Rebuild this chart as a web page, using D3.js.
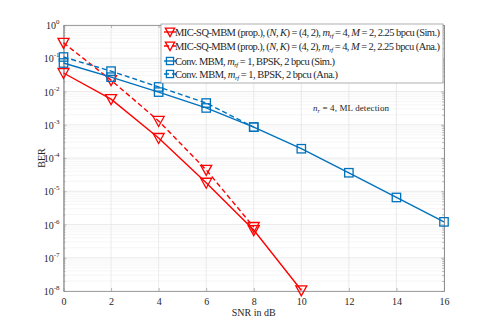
<!DOCTYPE html>
<html>
<head>
<meta charset="utf-8">
<script src="https://cdn.jsdelivr.net/npm/d3@7"></script>
<style>
body { margin: 0; background: #fff; }
text { font-family: "Liberation Serif", "DejaVu Serif", serif; fill: #262626; }
</style>
</head>
<body>
<svg id="chart" width="491" height="327"></svg>
<script>
// SNR points
var snrMic = [0, 2, 4, 6, 8, 10];
var snrMicAna = [0, 2, 4, 6, 8];
var snrConv = [0, 2, 4, 6, 8, 10, 12, 14, 16];
var snrConvAna = [0, 2, 4, 6, 8];

// BER values
var berMicSim = [0.036, 5.9e-3, 4.0e-4, 1.8e-5, 6.8e-7, 1.05e-8];
var berMicAna = [0.29, 0.022, 1.3e-3, 4.4e-5, 8.4e-7];
var berConvSim = [0.072, 0.027, 9.6e-3, 3.2e-3, 8.5e-4, 1.9e-4, 3.6e-5, 6.5e-6, 1.2e-6];
var berConvAna = [0.109, 0.041, 0.0137, 4.5e-3, 8.5e-4];

var xTicks = [0, 2, 4, 6, 8, 10, 12, 14, 16];
var yExps = [0, -1, -2, -3, -4, -5, -6, -7, -8];

var svg = d3.select("#chart");
var pL = 63.5, pR = 444, pT = 25, pB = 291;

var x = d3.scaleLinear().domain([0, 16]).range([pL, pR]);
var y = d3.scaleLog().domain([1e-8, 1]).range([pB, pT]);

// minor grid
var minors = [];
yExps.forEach(function(e) {
  if (e == 0) return;
  for (var k = 2; k <= 9; k++) minors.push(k * Math.pow(10, e));
});
svg.append("g").selectAll("line").data(minors).enter().append("line")
  .attr("x1", pL).attr("x2", pR)
  .attr("y1", function(d) { return y(d); }).attr("y2", function(d) { return y(d); })
  .attr("stroke", "#f0f0f0").attr("stroke-width", 0.6);

// major grid
svg.append("g").selectAll("line").data(xTicks).enter().append("line")
  .attr("x1", function(d) { return x(d); }).attr("x2", function(d) { return x(d); })
  .attr("y1", pT).attr("y2", pB)
  .attr("stroke", "#e3e3e3").attr("stroke-width", 0.7);
svg.append("g").selectAll("line").data(yExps).enter().append("line")
  .attr("x1", pL).attr("x2", pR)
  .attr("y1", function(d) { return y(Math.pow(10, d)); }).attr("y2", function(d) { return y(Math.pow(10, d)); })
  .attr("stroke", "#e3e3e3").attr("stroke-width", 0.7);

// axes box with inward ticks
var xAxis = d3.axisBottom(x).tickValues(xTicks).tickSizeInner(-3).tickSizeOuter(0).tickPadding(7);
var gx = svg.append("g").attr("transform", "translate(0," + pB + ")").call(xAxis);
gx.selectAll("text").style("font-size", "10px").attr("fill", "#262626");
svg.append("g").attr("transform", "translate(0," + pT + ")")
  .call(d3.axisTop(x).tickValues(xTicks).tickSizeInner(-3).tickSizeOuter(0).tickFormat(""));

var yAll = yExps.map(function(e) { return Math.pow(10, e); });
svg.append("g").attr("transform", "translate(" + pL + ",0)")
  .call(d3.axisLeft(y).tickValues(yAll).tickSizeInner(-3).tickSizeOuter(0).tickFormat(""));
svg.append("g").attr("transform", "translate(" + pR + ",0)")
  .call(d3.axisRight(y).tickValues(yAll).tickSizeInner(-3).tickSizeOuter(0).tickFormat(""));
svg.append("g").attr("transform", "translate(" + pL + ",0)")
  .call(d3.axisLeft(y).tickValues(minors).tickSizeInner(-1.8).tickSizeOuter(0).tickFormat(""));
svg.append("g").attr("transform", "translate(" + pR + ",0)")
  .call(d3.axisRight(y).tickValues(minors).tickSizeInner(-1.8).tickSizeOuter(0).tickFormat(""));
svg.selectAll(".domain").attr("stroke", "#8c8c8c").attr("stroke-width", 0.8);
svg.selectAll(".tick line").attr("stroke", "#8c8c8c").attr("stroke-width", 0.6);

// y tick labels 10^e
yExps.forEach(function(e) {
  var t = svg.append("text").attr("x", pL - 4).attr("y", y(Math.pow(10, e)) + 4)
    .attr("text-anchor", "end").style("font-size", "10px");
  t.append("tspan").text("10");
  t.append("tspan").attr("dy", -5).style("font-size", "7px").text(e);
});

// axis labels
svg.append("text").attr("x", (pL + pR) / 2).attr("y", 316).attr("text-anchor", "middle")
  .style("font-size", "10px").text("SNR in dB");
svg.append("text").attr("transform", "translate(45," + 158 + ") rotate(-90)").attr("text-anchor", "middle")
  .style("font-size", "10px").text("BER");

// curves
var red = "#ff0000", blue = "#0072bd";
var series = [
  { xs: snrMic, ys: berMicSim, color: red, dash: null, mark: "tri" },
  { xs: snrMicAna, ys: berMicAna, color: red, dash: "5,3", mark: "tri" },
  { xs: snrConv, ys: berConvSim, color: blue, dash: null, mark: "sq" },
  { xs: snrConvAna, ys: berConvAna, color: blue, dash: "5,3", mark: "sq" }
];

var line = d3.line().x(function(d) { return x(d[0]); }).y(function(d) { return y(d[1]); });

function marker(g, kind, color, sc) {
  if (kind == "tri") {
    g.append("path").attr("d", "M" + (-5.5 * sc) + "," + (-4.5 * sc) + "L" + (5.5 * sc) + "," + (-4.5 * sc) + "L0," + (5.5 * sc) + "Z")
      .attr("fill", "none").attr("stroke", color).attr("stroke-width", 1.3);
  } else {
    g.append("rect").attr("x", -4.2 * sc).attr("y", -4.2 * sc).attr("width", 8.4 * sc).attr("height", 8.4 * sc)
      .attr("fill", "none").attr("stroke", color).attr("stroke-width", 1.3);
  }
}

series.forEach(function(s) {
  var pts = s.xs.map(function(v, i) { return [v, s.ys[i]]; });
  svg.append("path").datum(pts).attr("d", line).attr("fill", "none")
    .attr("stroke", s.color).attr("stroke-width", 1.4)
    .attr("stroke-dasharray", s.dash);
  pts.forEach(function(p) {
    var g = svg.append("g").attr("transform", "translate(" + x(p[0]) + "," + y(p[1]) + ")");
    marker(g, s.mark, s.color, 1);
  });
});

// annotation
var ann = svg.append("text").attr("x", 313).attr("y", 111).style("font-size", "9px")
  .attr("textLength", 76).attr("lengthAdjust", "spacing");
ann.append("tspan").style("font-style", "italic").text("n");
ann.append("tspan").attr("dy", 2).style("font-size", "6.5px").style("font-style", "italic").text("r");
ann.append("tspan").attr("dy", -2).text(" = 4, ML detection");

// legend
var lg = svg.append("g");
lg.append("rect").attr("x", 161).attr("y", 24).attr("width", 282).attr("height", 59)
  .attr("fill", "#fff").attr("stroke", "#8c8c8c").attr("stroke-width", 0.7);

var legRows = [
  { y: 32, s: series[0], tag: "Sim.", mic: true, w: 265 },
  { y: 46, s: series[1], tag: "Ana.", mic: true, w: 265 },
  { y: 61, s: series[2], tag: "Sim.", mic: false, w: 160 },
  { y: 74, s: series[3], tag: "Ana.", mic: false, w: 163 }
];

legRows.forEach(function(r) {
  lg.append("line").attr("x1", 164).attr("x2", 176).attr("y1", r.y).attr("y2", r.y)
    .attr("stroke", r.s.color).attr("stroke-width", 1.4).attr("stroke-dasharray", r.s.dash);
  var g = lg.append("g").attr("transform", "translate(170," + r.y + ")");
  marker(g, r.s.mark, r.s.color, 0.85);
  var t = lg.append("text").attr("x", 175).attr("y", r.y + 3.5).style("font-size", "10.5px")
    .attr("textLength", r.w).attr("lengthAdjust", "spacing");
  if (r.mic) {
    t.append("tspan").text("MIC-SQ-MBM (prop.), (");
    t.append("tspan").style("font-style", "italic").text("N, K");
    t.append("tspan").text(") = (4, 2), ");
    t.append("tspan").style("font-style", "italic").text("m");
    t.append("tspan").attr("dy", 2).style("font-size", "7px").style("font-style", "italic").text("rf");
    t.append("tspan").attr("dy", -2).text(" = 4, ");
    t.append("tspan").style("font-style", "italic").text("M");
    t.append("tspan").text(" = 2, 2.25 bpcu (" + r.tag + ")");
  } else {
    t.append("tspan").text("Conv.  MBM, ");
    t.append("tspan").style("font-style", "italic").text("m");
    t.append("tspan").attr("dy", 2).style("font-size", "7px").style("font-style", "italic").text("rf");
    t.append("tspan").attr("dy", -2).text(" = 1, BPSK, 2 bpcu (" + r.tag + ")");
  }
});
</script>
</body>
</html>
